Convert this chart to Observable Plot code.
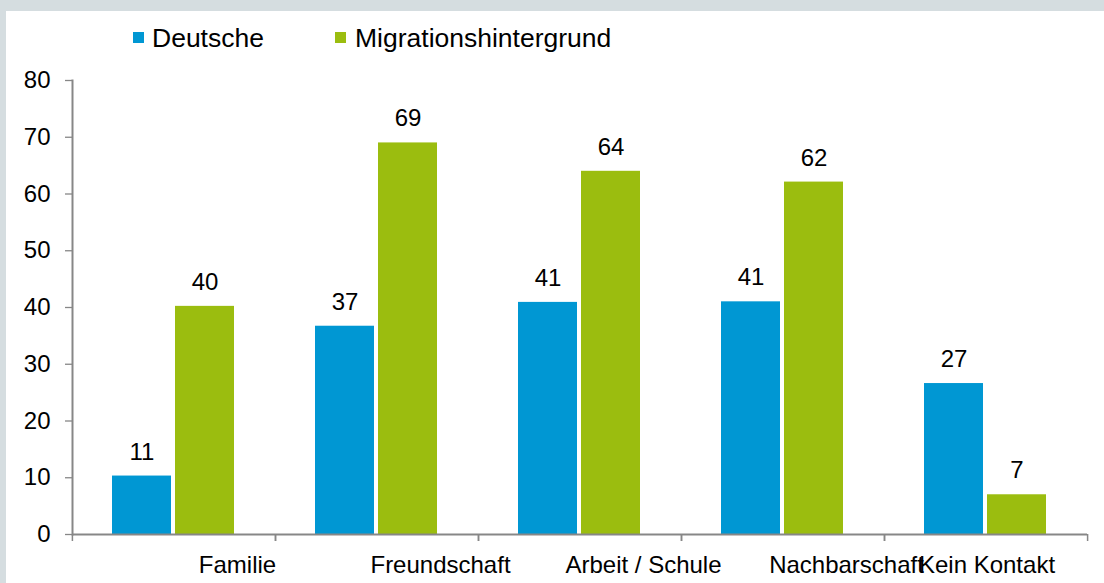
<!DOCTYPE html>
<html>
<head>
<meta charset="utf-8">
<script src="https://cdn.jsdelivr.net/npm/d3@7"></script>
<script src="https://cdn.jsdelivr.net/npm/@observablehq/plot@0.6"></script>
<style>
  html, body { margin: 0; padding: 0; }
  body { width: 1104px; height: 583px; background: #d5dde0; overflow: hidden; font-family: "Liberation Sans", Arial, sans-serif; }
  #panel { position: absolute; left: 6px; top: 11px; width: 1098px; height: 572px; background: #fff; }
  #legend { position: relative; height: 52px; font-size: 26.5px; line-height: 26px; color: #000; }
  .sw { position: absolute; top: 21px; width: 11px; height: 11px; }
  .lt { position: absolute; top: 14px; white-space: nowrap; }
  #chart svg { display: block; }
</style>
</head>
<body>
<div id="panel">
  <div id="legend"></div>
  <div id="chart"></div>
</div>
<script>
const categories = ["Familie", "Freundschaft", "Arbeit / Schule", "Nachbarschaft", "Kein Kontakt"];
const series = ["Deutsche", "Migrationshintergrund"];
const colors = ["#0097d3", "#9bbd0f"];
const deutsche = [10.3, 36.7, 40.9, 41.0, 26.6];
const migration = [40.2, 69.0, 64.0, 62.1, 7.0];
const deutscheLabels = ["11", "37", "41", "41", "27"];
const migrationLabels = ["40", "69", "64", "62", "7"];
const yTicks = [0, 10, 20, 30, 40, 50, 60, 70, 80];

const data = [];
categories.forEach((c, i) => {
  data.push({category: c, series: series[0], value: deutsche[i], label: deutscheLabels[i]});
  data.push({category: c, series: series[1], value: migration[i], label: migrationLabels[i]});
});

// legend
const legend = document.getElementById("legend");
const legendPos = [[127, 146], [329, 349]];
series.forEach((s, i) => {
  const sw = document.createElement("div");
  sw.className = "sw";
  sw.style.left = legendPos[i][0] + "px";
  sw.style.background = colors[i];
  legend.appendChild(sw);
  const t = document.createElement("div");
  t.className = "lt";
  t.style.left = legendPos[i][1] + "px";
  t.textContent = s;
  legend.appendChild(t);
});

const W = 1098, H = 520, mL = 65, mR = 17, mT = 17, mB = 49;
const step = (W - mL - mR) / categories.length;
const gray = "#878787";
const font = "Liberation Sans, Arial, sans-serif";
const lastCat = categories[categories.length - 1];

const plot = Plot.plot({
  width: W,
  height: H,
  marginLeft: mL,
  marginRight: mR,
  marginTop: mT,
  marginBottom: mB,
  style: {fontFamily: font, fontSize: "24px", color: "#000", background: "#fff"},
  fx: {domain: categories, padding: 0, axis: null, label: null},
  x: {domain: series, paddingInner: 0.063, paddingOuter: 0.63, axis: null, label: null},
  y: {domain: [0, 80], axis: null, label: null},
  color: {domain: series, range: colors},
  marks: [
    Plot.barY(data, {fx: "category", x: "series", y: "value", fill: "series"}),
    Plot.text(data, {fx: "category", x: "series", y: "value", text: "label", lineAnchor: "bottom", dy: -16.5, fontSize: 24, fill: "#000"}),
    Plot.ruleY([0], {stroke: gray, strokeWidth: 2}),
    Plot.frame({anchor: "left", facetAnchor: "left", stroke: gray, strokeWidth: 2}),
    Plot.axisY({ticks: yTicks, label: null, tickSize: 7, tickPadding: 15, stroke: gray, strokeWidth: 1.3, fill: "#000", fontSize: 24, tickFormat: d => String(d)}),
    // category boundary ticks (left edges of every category, and right edge of the last one)
    Plot.axisFx({anchor: "bottom", label: null, tickSize: 7, stroke: gray, strokeWidth: 1.5, dx: -step / 2, tickFormat: () => ""}),
    Plot.axisFx({anchor: "bottom", label: null, tickSize: 7, stroke: gray, strokeWidth: 1.5, dx: step / 2, tickFormat: () => ""}),
    // category labels (shifted as in the reference)
    Plot.text(categories.slice(0, 4), {fx: d => d, text: d => d, frameAnchor: "bottom", lineAnchor: "top", dy: 21, dx: 63.5, fontSize: 24, fill: "#000"}),
    Plot.text([lastCat], {fx: d => d, text: d => d, frameAnchor: "bottom", lineAnchor: "top", dy: 21, dx: 1, fontSize: 24, fill: "#000"})
  ]
});
document.getElementById("chart").appendChild(plot);
</script>
</body>
</html>
